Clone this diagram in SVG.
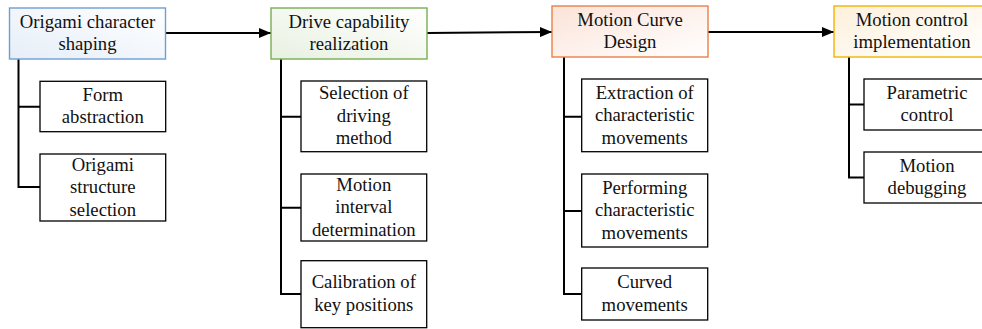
<svg xmlns="http://www.w3.org/2000/svg" width="982" height="329" viewBox="0 0 982 329">
<defs>
<style>
text{font-size:18.7px;fill:#111;text-anchor:middle}
.sub{fill:#fff;stroke:#000;stroke-width:1.3}
.main{stroke-width:1.4}
.ln{fill:none;stroke:#000;stroke-width:2}
</style>
<linearGradient id="gb" x1="0" y1="1" x2="1" y2="0"><stop offset="0" stop-color="#e6eef8"/><stop offset="1" stop-color="#ffffff"/></linearGradient>
<linearGradient id="gg" x1="0" y1="1" x2="1" y2="0"><stop offset="0" stop-color="#e8f1e1"/><stop offset="1" stop-color="#ffffff"/></linearGradient>
<linearGradient id="go" x1="0" y1="0" x2="1" y2="1"><stop offset="0" stop-color="#fbe3d8"/><stop offset="1" stop-color="#ffffff"/></linearGradient>
<linearGradient id="gy" x1="0" y1="0" x2="1" y2="1"><stop offset="0" stop-color="#fdf0dc"/><stop offset="1" stop-color="#ffffff"/></linearGradient>
<marker id="ah" viewBox="0 0 12 10" refX="12" refY="5" markerWidth="12" markerHeight="10" markerUnits="userSpaceOnUse" orient="auto"><path d="M0,0L12,5L0,10z" fill="#000"/></marker>
</defs>
<g id="connectors">
<path class="ln" d="M165.5,33H271" marker-end="url(#ah)"/>
<path class="ln" d="M427,33L552,32" marker-end="url(#ah)"/>
<path class="ln" d="M708,32H834" marker-end="url(#ah)"/>
<path class="ln" d="M18.5,59V187H40M18.5,106.7H40"/>
<path class="ln" d="M281,59V294H301M281,116.7H301M281,207.7H301"/>
<path class="ln" d="M564,57V294H581.7M564,116.7H581.7M564,211H581.7"/>
<path class="ln" d="M849,57V177.5H864M849,104.5H864"/>
</g>
<g font-family="'Liberation Serif', 'DejaVu Serif', serif">
<g id="n1"><rect class="main" x="9.5" y="8" width="156" height="51" fill="url(#gb)" stroke="#6e9fd4"/><text x="87.5" y="27.5">Origami character</text><text x="87.5" y="50">shaping</text></g>
<g id="n2"><rect class="main" x="271" y="8" width="156" height="51" fill="url(#gg)" stroke="#77ae50"/><text x="349" y="27.5">Drive capability</text><text x="349" y="50">realization</text></g>
<g id="n3"><rect class="main" x="552" y="6" width="156" height="51" fill="url(#go)" stroke="#e98048"/><text x="630" y="25.5">Motion Curve</text><text x="630" y="48">Design</text></g>
<g id="n4"><rect class="main" x="834" y="6" width="156" height="51" fill="url(#gy)" stroke="#f2b400"/><text x="912" y="25.5">Motion control</text><text x="912" y="48">implementation</text></g>
<g id="s1a"><rect class="sub" x="40" y="81.3" width="125.7" height="50.4"/><text x="102.8" y="100.7">Form</text><text x="102.8" y="123.2">abstraction</text></g>
<g id="s1b"><rect class="sub" x="40" y="154" width="125.7" height="67"/><text x="102.8" y="170.5">Origami</text><text x="102.8" y="193">structure</text><text x="102.8" y="215.5">selection</text></g>
<g id="s2a"><rect class="sub" x="301" y="81" width="125.7" height="70.7"/><text x="363.8" y="99.3">Selection of</text><text x="363.8" y="121.8">driving</text><text x="363.8" y="144.3">method</text></g>
<g id="s2b"><rect class="sub" x="301" y="174" width="125.7" height="67"/><text x="363.8" y="190.5">Motion</text><text x="363.8" y="213">interval</text><text x="363.8" y="235.5">determination</text></g>
<g id="s2c"><rect class="sub" x="301" y="260.7" width="125.7" height="67"/><text x="363.8" y="288">Calibration of</text><text x="363.8" y="310.5">key positions</text></g>
<g id="s3a"><rect class="sub" x="581.7" y="79" width="126" height="72.7"/><text x="644.7" y="98.5">Extraction of</text><text x="644.7" y="121">characteristic</text><text x="644.7" y="143.5">movements</text></g>
<g id="s3b"><rect class="sub" x="581.7" y="174" width="126" height="73"/><text x="644.7" y="193.5">Performing</text><text x="644.7" y="216">characteristic</text><text x="644.7" y="238.5">movements</text></g>
<g id="s3c"><rect class="sub" x="581.7" y="268" width="126" height="52"/><text x="644.7" y="288">Curved</text><text x="644.7" y="310.5">movements</text></g>
<g id="s4a"><rect class="sub" x="864" y="79" width="126" height="51"/><text x="927" y="98.5">Parametric</text><text x="927" y="121">control</text></g>
<g id="s4b"><rect class="sub" x="864" y="152" width="126" height="51"/><text x="927" y="171.5">Motion</text><text x="927" y="194">debugging</text></g>
</g>
</svg>
